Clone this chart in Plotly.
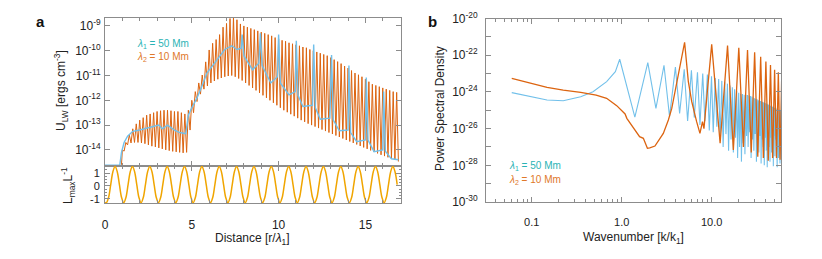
import numpy as np
import plotly.graph_objects as go

# ---------------- Panel a data ----------------
# orange (lambda2 = 10 Mm): log10 of spike maxima at r/l1 = 1.0, 1.2, ..., 16.8
orange_peak_log = [
    -14.0, -13.7, -13.4, -13.15, -12.95, -12.8, -12.7, -12.6, -12.55, -12.5,
    -12.45, -12.42, -12.4, -12.4, -12.42, -12.45, -12.45, -12.5, -12.55, -12.4,
    -12.0, -11.65, -11.3, -10.98, -10.45, -9.97, -9.7, -9.55, -9.35, -9.05,
    -8.9, -8.7, -8.65, -8.75, -8.92, -9.0, -9.05, -9.1, -9.15, -9.2,
    -9.25, -9.3, -9.35, -9.4, -9.47, -9.52, -9.58, -9.62, -9.68, -9.72,
    -9.76, -9.8, -9.85, -9.88, -9.95, -10.0, -10.05, -10.1, -10.15, -10.2,
    -10.28, -10.36, -10.44, -10.52, -10.62, -10.7, -10.8, -10.9, -10.97, -11.05,
    -11.15, -11.25, -11.35, -11.4, -11.45, -11.5, -11.55, -11.6, -11.65, -11.68,
]
# log10 of minima at r/l1 = 1.1, 1.3, ..., 16.9
orange_trough_log = [
    -14.05, -13.8, -13.72, -13.7, -13.7, -13.72, -13.75, -13.8, -13.85, -13.88,
    -13.92, -13.96, -14.0, -14.03, -14.06, -14.08, -14.1, -14.12, -14.1, -13.2,
    -12.5, -12.05, -11.75, -11.55, -11.42, -11.3, -11.22, -11.15, -11.1, -11.05,
    -11.02, -11.0, -11.05, -11.12, -11.2, -11.3, -11.4, -11.5, -11.6, -11.7,
    -11.8, -11.9, -12.0, -12.1, -12.2, -12.3, -12.4, -12.48, -12.56, -12.64,
    -12.72, -12.8, -12.87, -12.94, -13.0, -13.06, -13.12, -13.18, -13.24, -13.3,
    -13.36, -13.42, -13.48, -13.54, -13.6, -13.66, -13.72, -13.78, -13.84, -13.9,
    -13.96, -14.02, -14.08, -14.14, -14.2, -14.25, -14.3, -14.35, -14.4, -14.47,
]
# blue (lambda1 = 50 Mm)
blue_dist = [0.0, 0.85, 0.95, 1.1, 1.3, 1.6, 2.0, 2.5, 2.9, 3.1, 3.3, 3.6, 4.0, 4.3, 4.65,
             4.8, 5.0, 5.3, 5.6, 5.87, 6.2, 6.5, 6.9, 7.3, 7.6, 7.85, 7.9, 8.0, 8.5, 8.86,
             8.95, 9.05, 9.55, 9.93, 10.0, 10.1, 10.6, 10.96, 11.02, 11.12, 11.4, 11.95,
             12.02, 12.12, 12.4, 12.95, 13.05, 13.15, 13.5, 14.0, 14.05, 14.15, 14.5, 15.0,
             15.05, 15.15, 15.5, 16.0, 16.05, 16.15, 16.5, 16.9]
blue_log = [-14.62, -14.62, -14.1, -13.7, -13.45, -13.25, -13.2, -13.1, -13.05, -13.0, -13.15,
            -13.0, -13.2, -13.3, -13.35, -12.6, -12.3, -11.9, -11.4, -10.9, -10.6, -10.3,
            -9.95, -9.8, -9.95, -9.9, -9.35, -10.2, -10.77, -10.5, -9.3, -10.6, -11.3,
            -11.05, -9.35, -11.3, -11.78, -11.65, -9.6, -11.8, -12.25, -12.2, -9.75,
            -12.3, -12.76, -12.72, -10.17, -12.8, -13.23, -13.2, -10.6, -13.3, -13.67,
            -13.6, -11.08, -13.6, -14.07, -14.0, -11.65, -14.05, -14.36, -14.4]
# L_max / L oscillation, read every 1/8 period (first value at r=0, then from r=0.08)
wave_val = [
    -1.28,
    -1.3, -0.89, 0.11, 1.11, 1.52, 1.11, 0.11, -0.89,
    -1.3, -0.89, 0.11, 1.11, 1.52, 1.11, 0.11, -0.89,
    -1.3, -0.89, 0.11, 1.11, 1.52, 1.11, 0.11, -0.89,
    -1.3, -0.89, 0.11, 1.11, 1.52, 1.11, 0.11, -0.89,
    -1.3, -0.89, 0.11, 1.11, 1.52, 1.11, 0.11, -0.89,
    -1.3, -0.89, 0.11, 1.11, 1.52, 1.11, 0.11, -0.89,
    -1.3, -0.89, 0.11, 1.11, 1.52, 1.11, 0.11, -0.89,
    -1.3, -0.89, 0.11, 1.11, 1.52, 1.11, 0.11, -0.89,
    -1.3, -0.89, 0.11, 1.11, 1.52, 1.11, 0.11, -0.89,
    -1.3, -0.89, 0.11, 1.11, 1.52, 1.11, 0.11, -0.89,
    -1.3, -0.89, 0.11, 1.11, 1.52, 1.11, 0.11, -0.89,
    -1.3, -0.89, 0.11, 1.11, 1.52, 1.11, 0.11, -0.89,
    -1.3, -0.89, 0.11, 1.11, 1.52, 1.11, 0.11, -0.89,
    -1.3, -0.89, 0.11, 1.11, 1.52, 1.11, 0.11, -0.89,
    -1.3, -0.89, 0.11, 1.11, 1.52, 1.11, 0.11, -0.89,
    -1.3, -0.89, 0.11, 1.11, 1.52, 1.11, 0.11, -0.89,
    -1.3, -0.89, 0.11, 1.11, 1.52, 1.11, 0.11,
]

# ---------------- Panel b data ----------------
blue_lowk_k = [0.06, 0.095, 0.148, 0.224, 0.35, 0.48, 0.68, 0.85, 0.92]
blue_lowk_log = [-24.04, -24.26, -24.44, -24.48, -24.26, -23.99, -23.44, -22.9, -22.4]
blue_psd_peak_log = [
    -22.22, -22.4, -22.55, -22.65, -22.77, -22.82, -22.93, -23.0, -23.05, -23.15,
    -23.25, -23.3, -23.4, -23.45, -23.55, -23.65, -23.75, -23.85, -23.95, -24.05,
    -24.1, -24.12, -24.15, -24.15, -24.17, -24.2, -24.22, -24.25, -24.3, -24.35,
    -24.38, -24.4, -24.45, -24.48, -24.5, -24.52, -24.55, -24.58, -24.6, -24.62,
    -24.65, -24.68, -24.7, -24.72, -24.75, -24.78, -24.8, -24.82, -24.85, -24.87,
    -24.88, -24.9, -24.92, -24.93, -24.95, -24.97, -24.98, -25.0, -25.0, -25.02,
]
blue_psd_trough_log = [
    -25.38, -24.9, -25.35, -25.17, -25.59, -25.4, -25.8, -25.6, -26.1, -26.2,
    -25.9, -26.6, -27.0, -26.3, -27.2, -26.6, -27.3, -26.5, -27.6, -27.0,
    -27.8, -26.8, -27.4, -26.4, -27.0, -26.2, -27.6, -26.6, -27.2, -26.3,
    -27.8, -26.5, -27.3, -26.4, -27.9, -26.6, -27.0, -28.0, -26.5, -27.2,
    -28.1, -26.6, -27.0, -27.8, -26.5, -27.3, -26.8, -28.05, -26.4, -27.5,
    -26.6, -27.2, -28.1, -26.5, -27.6, -26.8, -27.9, -26.5, -27.0,
]
orange_psd_k = [0.06, 0.095, 0.148, 0.224, 0.35, 0.52, 0.68, 0.88, 1.09, 1.14, 1.4, 1.58,
                1.74, 1.93, 2.05, 2.34, 2.9, 3.3, 3.6, 4.07, 4.65, 5.0, 5.5, 6.0, 6.8, 7.4,
                7.9, 8.2, 8.8, 10.0, 12.4, 15.0, 17.4, 20.0, 22.5, 25.0, 27.5, 30.0, 32.5,
                35.0, 37.5, 40.0, 42.5, 45.0, 47.5, 50.0, 52.5, 55.0, 57.5, 60.0]
orange_psd_log = [-23.26, -23.53, -23.75, -23.9, -24.02, -24.17, -24.35, -24.75, -25.2,
                  -25.44, -26.1, -26.44, -26.53, -27.07, -27.05, -26.95, -26.26, -25.53,
                  -24.9, -23.62, -22.17, -21.3, -23.44, -24.53, -25.62, -26.26, -25.62,
                  -26.0, -24.35, -21.41, -26.8, -21.48, -27.17, -21.59, -27.0, -21.72,
                  -27.3, -21.84, -27.53, -22.08, -27.6, -22.35, -27.75, -22.53, -27.6,
                  -22.8, -27.6, -22.93, -27.7, -23.1]

# ---------------- build series ----------------
pk_x = 1.0 + 0.2 * np.arange(len(orange_peak_log))
tr_x = pk_x + 0.1
ox = [0.95] + list(np.ravel(np.column_stack([pk_x, tr_x])))
oy = [-14.6] + list(np.ravel(np.column_stack([orange_peak_log, orange_trough_log])))
oy = [10 ** v for v in oy]

wave_dist = [0.0] + list(0.08 + 0.125 * np.arange(len(wave_val) - 1))

bk_pk = np.arange(1, len(blue_psd_peak_log) + 1) - 0.05
bk_tr = np.arange(1, len(blue_psd_trough_log) + 1) + 0.4
bx = list(blue_lowk_k)
by = list(blue_lowk_log)
for i in range(len(bk_pk)):
    bx.append(bk_pk[i]); by.append(blue_psd_peak_log[i])
    if i < len(bk_tr):
        bx.append(bk_tr[i]); by.append(blue_psd_trough_log[i])
by = [10 ** v for v in by]

ORANGE = "#DC6410"
BLUE = "#72C0EA"
TEAL = "#2AB3B5"
LEG_OR = "#E0782A"
GOLD = "#F0A500"
AX = "#8C8C8C"
FONT = "Liberation Sans, Arial, sans-serif"

fig = go.Figure()
fig.add_trace(go.Scatter(x=ox, y=oy, mode="lines", line=dict(color=ORANGE, width=1),
                         xaxis="x", yaxis="y", showlegend=False))
fig.add_trace(go.Scatter(x=blue_dist, y=[10 ** v for v in blue_log], mode="lines",
                         line=dict(color=BLUE, width=1.4), xaxis="x", yaxis="y",
                         showlegend=False))
fig.add_trace(go.Scatter(x=wave_dist, y=wave_val, mode="lines",
                         line=dict(color=GOLD, width=1.5, shape="spline"),
                         xaxis="x2", yaxis="y2", showlegend=False))
fig.add_trace(go.Scatter(x=bx, y=by, mode="lines", line=dict(color=BLUE, width=1.1),
                         xaxis="x3", yaxis="y3", showlegend=False))
fig.add_trace(go.Scatter(x=orange_psd_k, y=[10 ** v for v in orange_psd_log], mode="lines",
                         line=dict(color=ORANGE, width=1.3), xaxis="x3", yaxis="y3",
                         showlegend=False))

# the page body has an 8px margin: lay out in page pixels, offset by it
OFF = 8
W, H = 822 - 2 * OFF, 259 - 2 * OFF
def px(x):
    return (x - OFF) / W
def py(y):
    return 1 - (y - OFF) / H

axcommon = dict(showline=True, linecolor=AX, linewidth=1, mirror="ticks", ticks="inside",
                tickcolor=AX, showgrid=False, zeroline=False, automargin=False,
                tickfont=dict(family=FONT, size=11, color="#222"))

logt = [10.0 ** e for e in range(-14, -8)]
logt_txt = ["10<sup>%d</sup>" % e for e in range(-14, -8)]
psd_t = [10.0 ** e for e in range(-30, -19)]
psd_txt = ["10<sup>%d</sup>" % e if e % 2 == 0 else "" for e in range(-30, -19)]
kminor = [a * 10.0 ** d for d in (-2, -1, 0, 1) for a in range(2, 10)
          if 0.031 < a * 10.0 ** d < 59]

fig.update_layout(
    width=W, height=H, autosize=False,
    margin=dict(l=0, r=0, t=0, b=0, pad=0),
    paper_bgcolor="white", plot_bgcolor="white",
    font=dict(family=FONT, color="#222"),
    xaxis=dict(axcommon, domain=[px(105), px(401)], range=[0, 17.05], anchor="y",
               showticklabels=False, tickvals=[0, 5, 10, 15], ticklen=5,
               minor=dict(dtick=1, ticklen=3, ticks="inside", tickcolor=AX)),
    yaxis=dict(axcommon, domain=[py(166), py(18)], type="log", range=[-14.65, -8.68],
               anchor="x", tickvals=logt, ticktext=logt_txt, ticklen=5,
               tickfont=dict(family=FONT, size=12, color="#222"), ticklabelstandoff=1),
    xaxis2=dict(axcommon, domain=[px(105), px(401)], range=[0, 17.05], anchor="y2",
                tickvals=[0, 5, 10, 15], ticktext=["0", "5", "10", "15"], ticklen=5,
                minor=dict(dtick=1, ticklen=3, ticks="inside", tickcolor=AX),
                ticklabelstandoff=11, tickfont=dict(family=FONT, size=12, color="#222")),
    yaxis2=dict(axcommon, domain=[py(203), py(166)], range=[-1.32, 1.55], anchor="x2",
                tickvals=[-1, 0, 1], ticktext=["-1", "0", "1"], ticklen=5,
                minor=dict(dtick=0.25, ticklen=2, ticks="inside", tickcolor=AX),
                tickfont=dict(family=FONT, size=11, color="#222"), ticklabelstandoff=2),
    xaxis3=dict(axcommon, domain=[px(486), px(781)], type="log", range=[-1.508, 1.77],
                anchor="y3", tickvals=[0.1, 1, 10], ticktext=["0.1", "1.0", "10.0"],
                ticklen=5, minor=dict(tickvals=kminor, ticklen=3, ticks="inside",
                                      tickcolor=AX),
                ticklabelstandoff=10, tickfont=dict(family=FONT, size=11, color="#222")),
    yaxis3=dict(axcommon, domain=[py(202), py(18.5)], type="log", range=[-30, -20],
                anchor="x3", tickvals=psd_t, ticktext=psd_txt, ticklen=5,
                tickfont=dict(family=FONT, size=12, color="#222"), ticklabelstandoff=5),
)

ann = [
    dict(x=px(40), y=py(22), text="<b>a</b>", font=dict(size=15, color="#111")),
    dict(x=px(432), y=py(22), text="<b>b</b>", font=dict(size=15, color="#111")),
    dict(x=px(61), y=py(91), text="U<sub>LW</sub> [ergs cm<sup>-3</sup>]", textangle=-90,
         font=dict(size=12, color="#222")),
    dict(x=px(68), y=py(185), text="L<sub>max</sub>L<sup>-1</sup>", textangle=-90,
         font=dict(size=12, color="#222")),
    dict(x=px(252), y=py(239), text="Distance [r/<i>λ</i><sub>1</sub>]",
         font=dict(size=12, color="#222")),
    dict(x=px(440), y=py(108), text="Power Spectral Density", textangle=-90,
         font=dict(size=12, color="#222")),
    dict(x=px(633), y=py(238), text="Wavenumber [k/k<sub>1</sub>]",
         font=dict(size=12, color="#222")),
    dict(x=px(135), y=py(44), text="<i>λ</i><sub>1</sub> = 50 Mm", xanchor="left",
         font=dict(size=10, color=TEAL)),
    dict(x=px(135), y=py(57), text="<i>λ</i><sub>2</sub> = 10 Mm", xanchor="left",
         font=dict(size=10, color=LEG_OR)),
    dict(x=px(507), y=py(166), text="<i>λ</i><sub>1</sub> = 50 Mm", xanchor="left",
         font=dict(size=10, color=TEAL)),
    dict(x=px(507), y=py(180), text="<i>λ</i><sub>2</sub> = 10 Mm", xanchor="left",
         font=dict(size=10, color=LEG_OR)),
]
for a in ann:
    a.setdefault("xanchor", "center")
    a.update(xref="paper", yref="paper", showarrow=False, yanchor="middle")
    a["font"]["family"] = FONT
fig.update_layout(annotations=ann)

fig.write_html("out.html")
